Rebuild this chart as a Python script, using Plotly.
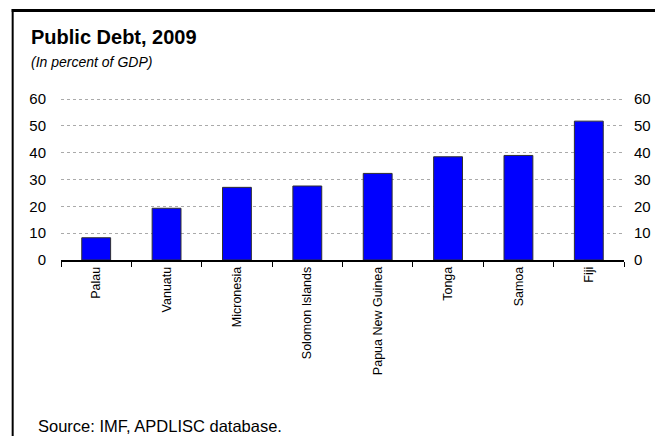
import plotly.graph_objects as go

countries = ["Palau", "Vanuatu", "Micronesia", "Solomon Islands",
             "Papua New Guinea", "Tonga", "Samoa", "Fiji"]
debt = [8.3, 19.3, 27.1, 27.6, 32.3, 38.5, 39.0, 51.8]
y_ticks = [0, 10, 20, 30, 40, 50, 60]

OFF = 8  # default page body margin
W, H = 663 - OFF, 444 - 2 * OFF
YTOP = 60.8
PX_PER_UNIT = (260 - 99) / 60.0
L, R, B = 61 - OFF, 626 - OFF, 260 - OFF
T = round(B - PX_PER_UNIT * YTOP)

def px(x):
    return (x - OFF - L) / (R - L)

def py(y):
    return (B - (y - OFF)) / (B - T)

FONT = "Liberation Sans, Arial, sans-serif"

fig = go.Figure()
fig.add_trace(go.Bar(
    x=countries, y=debt,
    marker=dict(color="#0000FF", line=dict(color="#303030", width=1)),
    hoverinfo="x+y", showlegend=False,
))
fig.add_trace(go.Scatter(
    x=countries, y=debt, yaxis="y2", mode="markers",
    marker=dict(opacity=0), hoverinfo="skip", showlegend=False,
))

fig.update_layout(
    width=W, height=H,
    margin=dict(l=L, r=W - R, t=T, b=H - B, pad=0),
    paper_bgcolor="white", plot_bgcolor="white",
    font=dict(family=FONT, color="black"),
    bargap=0.59,
    xaxis=dict(
        type="category",
        showline=True, linecolor="black", linewidth=1.5,
        ticks="outside", tickson="boundaries", ticklen=5, tickcolor="black", tickwidth=1,
        tickangle=-90, tickfont=dict(size=12.5, family=FONT),
        showgrid=False,
    ),
    yaxis=dict(
        range=[0, YTOP], tickvals=y_ticks, ticks="",
        showgrid=True, gridcolor="#aaaaaa", gridwidth=1, griddash="dot",
        zeroline=False, showline=False,
        tickfont=dict(size=15, family=FONT),
        ticklabelstandoff=14,
        fixedrange=True,
    ),
    yaxis2=dict(
        range=[0, YTOP], tickvals=y_ticks, ticks="",
        overlaying="y", side="right", showgrid=False, zeroline=False, showline=False,
        tickfont=dict(size=15, family=FONT),
        ticklabelstandoff=9,
        fixedrange=True,
    ),
    annotations=[
        dict(text="<b>Public Debt, 2009</b>", xref="paper", yref="paper",
             x=px(29), y=py(37), xanchor="left", yanchor="middle", showarrow=False,
             font=dict(size=20, family=FONT)),
        dict(text="<i>(In percent of GDP)</i>", xref="paper", yref="paper",
             x=px(29), y=py(62), xanchor="left", yanchor="middle", showarrow=False,
             font=dict(size=14, family=FONT)),
        dict(text="Source: IMF, APDLISC database.", xref="paper", yref="paper",
             x=px(36), y=py(426), xanchor="left", yanchor="middle", showarrow=False,
             font=dict(size=16.5, family=FONT)),
    ],
    shapes=[
        dict(type="line", xref="paper", yref="paper",
             x0=px(12.5), x1=px(12.5), y0=py(9), y1=py(446),
             line=dict(color="black", width=2)),
        dict(type="line", xref="paper", yref="paper",
             x0=px(11.5), x1=px(665), y0=py(10.5), y1=py(10.5),
             line=dict(color="black", width=3)),
    ],
)

fig.write_html("out.html")
